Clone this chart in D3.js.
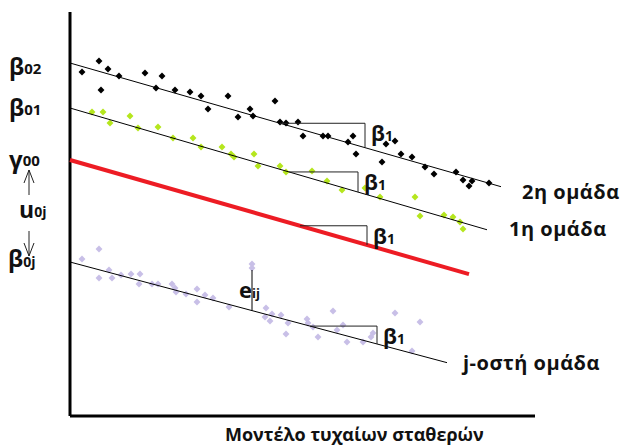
<!DOCTYPE html>
<html>
<head>
<meta charset="utf-8">
<script src="https://cdn.jsdelivr.net/npm/d3@7"></script>
<style>
  body { margin: 0; background: #fff; }
  svg { display: block; }
  text { font-family: "Open Sans", "Noto Sans", sans-serif; font-weight: bold; fill: #111; }
</style>
</head>
<body>
<script>
// points, [x, y] in plot units
var group2Points = [
  [1.2, 34.3], [2.9, 35.4], [3.8, 34.6], [3.1, 32.5], [4.9, 33.9], [7.5, 34.2],
  [9.2, 33.9], [8.6, 32.7], [10.5, 32.5], [12.0, 32.3], [13.1, 31.9], [13.8, 30.6],
  [15.8, 31.9], [16.8, 29.8], [18.0, 30.6], [18.3, 29.9], [20.5, 31.4], [21.0, 29.3],
  [21.6, 29.2], [22.8, 29.3], [23.3, 27.9], [25.3, 27.9], [25.8, 27.9], [28.3, 27.9],
  [27.8, 27.3], [28.6, 26.1], [31.6, 27.1], [32.5, 27.4], [31.2, 25.3], [33.1, 26.1],
  [34.2, 25.8], [35.5, 24.8], [36.4, 24.1], [38.6, 24.3], [39.3, 23.5], [40.2, 23.4],
  [39.9, 22.9], [41.9, 23.2]
];
var group1Points = [
  [2.2, 30.3], [3.3, 30.3], [4.0, 29.2], [6.0, 29.9], [6.8, 28.7], [8.8, 28.8],
  [10.3, 27.7], [12.3, 27.7], [13.1, 26.8], [15.2, 26.8], [16.1, 26.1], [16.4, 25.8],
  [18.4, 26.1], [18.8, 24.9], [21.0, 24.9], [21.6, 24.3], [24.2, 24.4], [25.7, 23.4],
  [27.2, 22.5], [29.5, 22.7], [31.0, 21.8], [34.5, 21.8], [35.0, 19.9], [37.4, 20.0],
  [38.3, 19.8], [39.0, 19.3], [39.3, 18.6]
];
var groupJPoints = [
  [1.2, 15.6], [2.9, 16.6], [2.9, 13.7], [3.9, 14.5], [4.2, 13.7], [5.1, 14.0],
  [6.1, 14.1], [7.0, 14.1], [6.9, 13.1], [8.2, 13.1], [8.8, 13.1], [10.2, 13.1],
  [10.5, 12.7], [10.6, 12.3], [11.6, 12.1], [12.7, 12.6], [12.7, 11.3], [13.5, 12.0],
  [14.3, 11.7], [15.9, 10.8], [18.2, 15.1], [18.2, 14.7], [19.6, 10.7], [19.5, 9.8],
  [20.0, 9.4], [20.2, 10.1], [21.1, 10.0], [21.8, 9.2], [21.6, 8.1], [23.7, 9.6],
  [23.8, 9.2], [24.3, 8.8], [24.8, 7.8], [26.3, 10.4], [26.7, 8.5], [27.3, 9.0],
  [27.7, 7.3], [29.3, 7.3], [30.1, 7.8], [30.3, 8.2], [32.5, 10.2], [35.0, 9.3],
  [34.2, 6.4]
];

// regression lines: intercept, slope, end x
var lineNames = ['group2', 'group1', 'overall', 'groupJ'];
var intercepts = [35.2, 30.7, 25.5, 15.3];
var slopes = [-0.287, -0.292, -0.286, -0.267];
var lineEnds = [43.1, 41.7, 39.9, 37.7];
// slope triangles: start and end x along each line
var triStart = [21.0, 21.9, 23.0, 24.0];
var triEnd = [29.5, 28.8, 29.7, 30.7];

var groupLabels = ['2η ομάδα', '1η ομάδα', '', 'j-οστή ομάδα'];
var title = 'Μοντέλο τυχαίων σταθερών';

var width = 624, height = 447;
var svg = d3.select('body').append('svg')
  .attr('width', width)
  .attr('height', height);

var x = d3.scaleLinear().domain([0, 46.5]).range([70, 535]);
var y = d3.scaleLinear().domain([0, 40.3]).range([415, 12]);

function lineY(i, xv) { return intercepts[i] + slopes[i] * xv; }

// axes
svg.append('line')
  .attr('x1', x(0)).attr('y1', y(40.3))
  .attr('x2', x(0)).attr('y2', y(-0.1))
  .attr('stroke', '#000').attr('stroke-width', 3);
svg.append('line')
  .attr('x1', x(0)).attr('y1', y(-0.1))
  .attr('x2', x(46.5)).attr('y2', y(-0.1))
  .attr('stroke', '#000').attr('stroke-width', 3);

// points
var diamond = d3.symbol().type(d3.symbolSquare).size(24);
function drawPoints(pts, color) {
  svg.append('g').selectAll('path')
    .data(pts)
    .enter().append('path')
    .attr('d', diamond)
    .attr('transform', function (d) { return 'translate(' + x(d[0]) + ',' + y(d[1]) + ') rotate(45)'; })
    .attr('fill', color);
}
drawPoints(group2Points, '#000');
drawPoints(group1Points, '#b5e61d');
drawPoints(groupJPoints, '#c8bfe7');

// regression lines
lineNames.forEach(function (name, i) {
  svg.append('line')
    .attr('class', name)
    .attr('x1', x(0)).attr('y1', y(lineY(i, 0)))
    .attr('x2', x(lineEnds[i])).attr('y2', y(lineY(i, lineEnds[i])))
    .attr('stroke', name === 'overall' ? '#ed1c24' : '#000')
    .attr('stroke-width', name === 'overall' ? 4 : 1);
});

// slope triangles + β1
lineNames.forEach(function (name, i) {
  var top = lineY(i, triStart[i]);
  svg.append('path')
    .attr('d', 'M' + x(triStart[i]) + ',' + y(top) +
      'H' + x(triEnd[i]) + 'V' + y(lineY(i, triEnd[i])))
    .attr('fill', 'none').attr('stroke', '#222').attr('stroke-width', 1);
  var t = svg.append('text')
    .attr('x', x(triEnd[i]) + 6)
    .attr('y', y(top) + 18)
    .attr('font-size', 21);
  t.append('tspan').text('β');
  t.append('tspan').attr('font-size', 14).text('1');
});

// residual e_ij
var eX = 18.2;
svg.append('line')
  .attr('x1', x(eX)).attr('y1', y(14.5))
  .attr('x2', x(eX)).attr('y2', y(lineY(3, eX)))
  .attr('stroke', '#000').attr('stroke-width', 1);
var et = svg.append('text').attr('x', x(eX) - 13).attr('y', y(lineY(3, eX)) - 13).attr('font-size', 22);
et.append('tspan').text('e');
et.append('tspan').attr('font-size', 13).text('ij');

// group labels on the right
var labelPos = [[522, 199], [509, 236], null, [463, 370]];
lineNames.forEach(function (name, i) {
  if (!groupLabels[i]) return;
  svg.append('text')
    .attr('x', x(lineEnds[i]) + (labelPos[i][0] - x(lineEnds[i])))
    .attr('y', y(lineY(i, lineEnds[i])) + (labelPos[i][1] - y(lineY(i, lineEnds[i]))))
    .attr('font-size', 20)
    .attr('letter-spacing', 0.5)
    .text(groupLabels[i]);
});

// left intercept labels
function sub(xp, yp, main, s, mainSize, subSize, dy) {
  var t = svg.append('text').attr('x', xp).attr('y', yp).attr('font-size', mainSize);
  t.append('tspan').text(main);
  t.append('tspan').attr('font-size', subSize).attr('dy', dy).text(s);
}
sub(9, y(intercepts[0]) + 12, 'β', '02', 23, 15, -1);
sub(9, y(intercepts[1]) + 8, 'β', '01', 23, 15, -1);
sub(9, y(intercepts[2]) + 8, 'γ', '00', 24, 15, -2);
sub(19, y(intercepts[2]) + 58, 'u', '0j', 23, 14, -1);
sub(8, y(intercepts[3]) + 5, 'β', '0j', 23, 14, 0);

// arrows between γ00 and β0j
var ax = 29;
svg.append('path')
  .attr('d', 'M' + ax + ',' + (y(intercepts[2]) + 35) + 'V' + (y(intercepts[2]) + 10) +
    'M' + (ax - 5) + ',' + (y(intercepts[2]) + 23) + 'L' + ax + ',' + (y(intercepts[2]) + 10) +
    'L' + (ax + 5) + ',' + (y(intercepts[2]) + 23))
  .attr('fill', 'none').attr('stroke', '#222').attr('stroke-width', 1);
svg.append('path')
  .attr('d', 'M' + ax + ',' + (y(intercepts[3]) - 31) + 'V' + (y(intercepts[3]) - 6) +
    'M' + (ax - 5) + ',' + (y(intercepts[3]) - 19) + 'L' + ax + ',' + (y(intercepts[3]) - 6) +
    'L' + (ax + 5) + ',' + (y(intercepts[3]) - 19))
  .attr('fill', 'none').attr('stroke', '#222').attr('stroke-width', 1);

// bottom title
svg.append('text')
  .attr('x', 225).attr('y', 441)
  .attr('font-size', 18)
  .text(title);
</script>
</body>
</html>
